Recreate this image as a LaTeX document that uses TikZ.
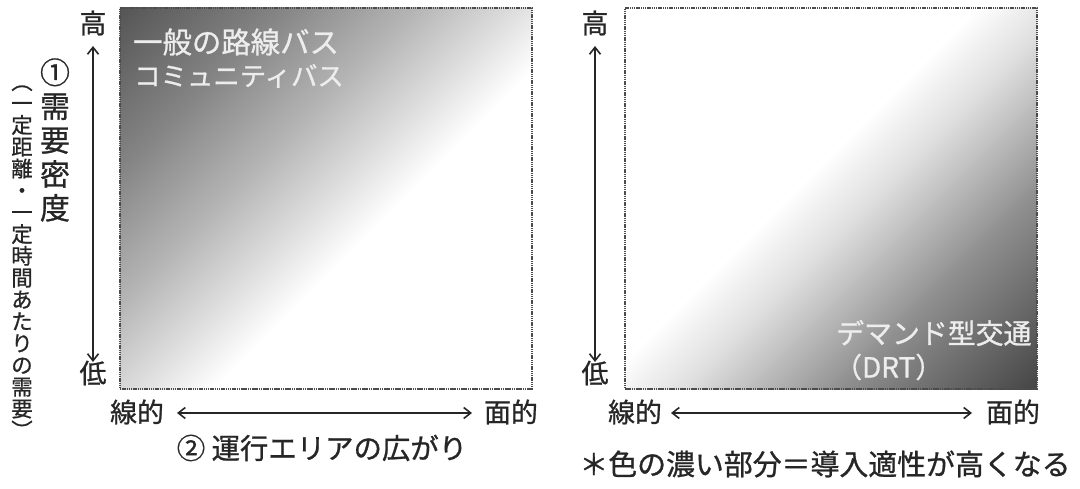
\documentclass[tikz,border=0pt]{standalone}
\usepackage{fontspec}
\setmainfont{Noto Sans CJK JP}[FakeBold=0.9]
\usetikzlibrary{arrows.meta}
\pgfdeclarehorizontalshading{darkTL}{100bp}{color(0bp)=(black!66); color(15bp)=(black!66); color(29bp)=(black!48); color(41bp)=(black!29); color(50bp)=(black!13); color(57bp)=(white); color(100bp)=(white)}
\pgfdeclarehorizontalshading{darkBR}{100bp}{color(0bp)=(white); color(46bp)=(white); color(54bp)=(black!13); color(68bp)=(black!44); color(85bp)=(black!72); color(100bp)=(black!72)}
\tikzset{
  panel/.style={draw=black!70, line width=1.1bp, dash pattern=on 1.5bp off 0.7bp, inner sep=0pt, minimum width=412bp, minimum height=381bp},
  lbl/.style={font=\fontsize{27}{30}\selectfont, inner sep=0pt, text=black!85},
  intext/.style={font=\fontsize{28}{34}\selectfont, inner sep=0pt, text=white!93!black, anchor=west},
  dblarrow/.style={line width=1.6bp, black!85, {Straight Barb[length=7bp,width=11bp]}-{Straight Barb[length=7bp,width=11bp]}}
}
\begin{document}
\begin{tikzpicture}[x=1bp,y=-1bp]
\useasboundingbox (0,0) rectangle (1080,489);
% panels
\node[panel, shade, shading=darkTL, shading angle=-45] (boxL) at (326,198.5) {};
\node[panel, shade, shading=darkBR, shading angle=-45] (boxR) at (831,198.5) {};
% texts inside panels
\node[intext, font=\fontsize{29.5}{34}\selectfont] (busA) at (133,42) {一般の路線バス};
\node[intext, font=\fontsize{26.5}{34}\selectfont] (busB) at (134,76) {コミュニティバス};
\node[intext] (drtA) at (836,333) {デマンド型交通};
\node[intext] (drtB) at (834,367) {（DRT）};
% left axis labels
\node[lbl] (hiL) at (93,23) {高};
\node[lbl] (loL) at (93,373) {低};
\coordinate (aLt) at (93,46);
\coordinate (aLb) at (93,362);
\draw[dblarrow] (aLt) -- (aLb);
\node[font=\fontsize{30}{34}\selectfont, align=center, inner sep=0pt, text=black!85] (vt1) at (55,140) {①\\需\\要\\密\\度};
\node[font=\fontsize{21.5}{21.9}\selectfont, align=center, inner sep=0pt, text=black!85] (vt2) at (22,262) {︵\\一\\定\\距\\離\\・\\一\\定\\時\\間\\あ\\た\\り\\の\\需\\要\\︶};
\node[lbl] (linL) at (137,412) {線的};
\node[lbl] (menL) at (511,412) {面的};
\coordinate (hLl) at (177,413);
\coordinate (hLr) at (472,413);
\draw[dblarrow] (hLl) -- (hLr);
\node[lbl, font=\fontsize{28.5}{30}\selectfont] (axis2) at (322,448) {② 運行エリアの広がり};
% right axis labels
\node[lbl] (hiR) at (595,23) {高};
\node[lbl] (loR) at (595,373) {低};
\coordinate (aRt) at (595,46);
\coordinate (aRb) at (595,362);
\draw[dblarrow] (aRt) -- (aRb);
\node[lbl] (linR) at (635,412) {線的};
\node[lbl] (menR) at (1013,412) {面的};
\coordinate (hRl) at (671,413);
\coordinate (hRr) at (972,413);
\draw[dblarrow] (hRl) -- (hRr);
\node[lbl, font=\fontsize{29}{30}\selectfont] (note) at (825,464) {＊色の濃い部分＝導入適性が高くなる};
\end{tikzpicture}
\end{document}
